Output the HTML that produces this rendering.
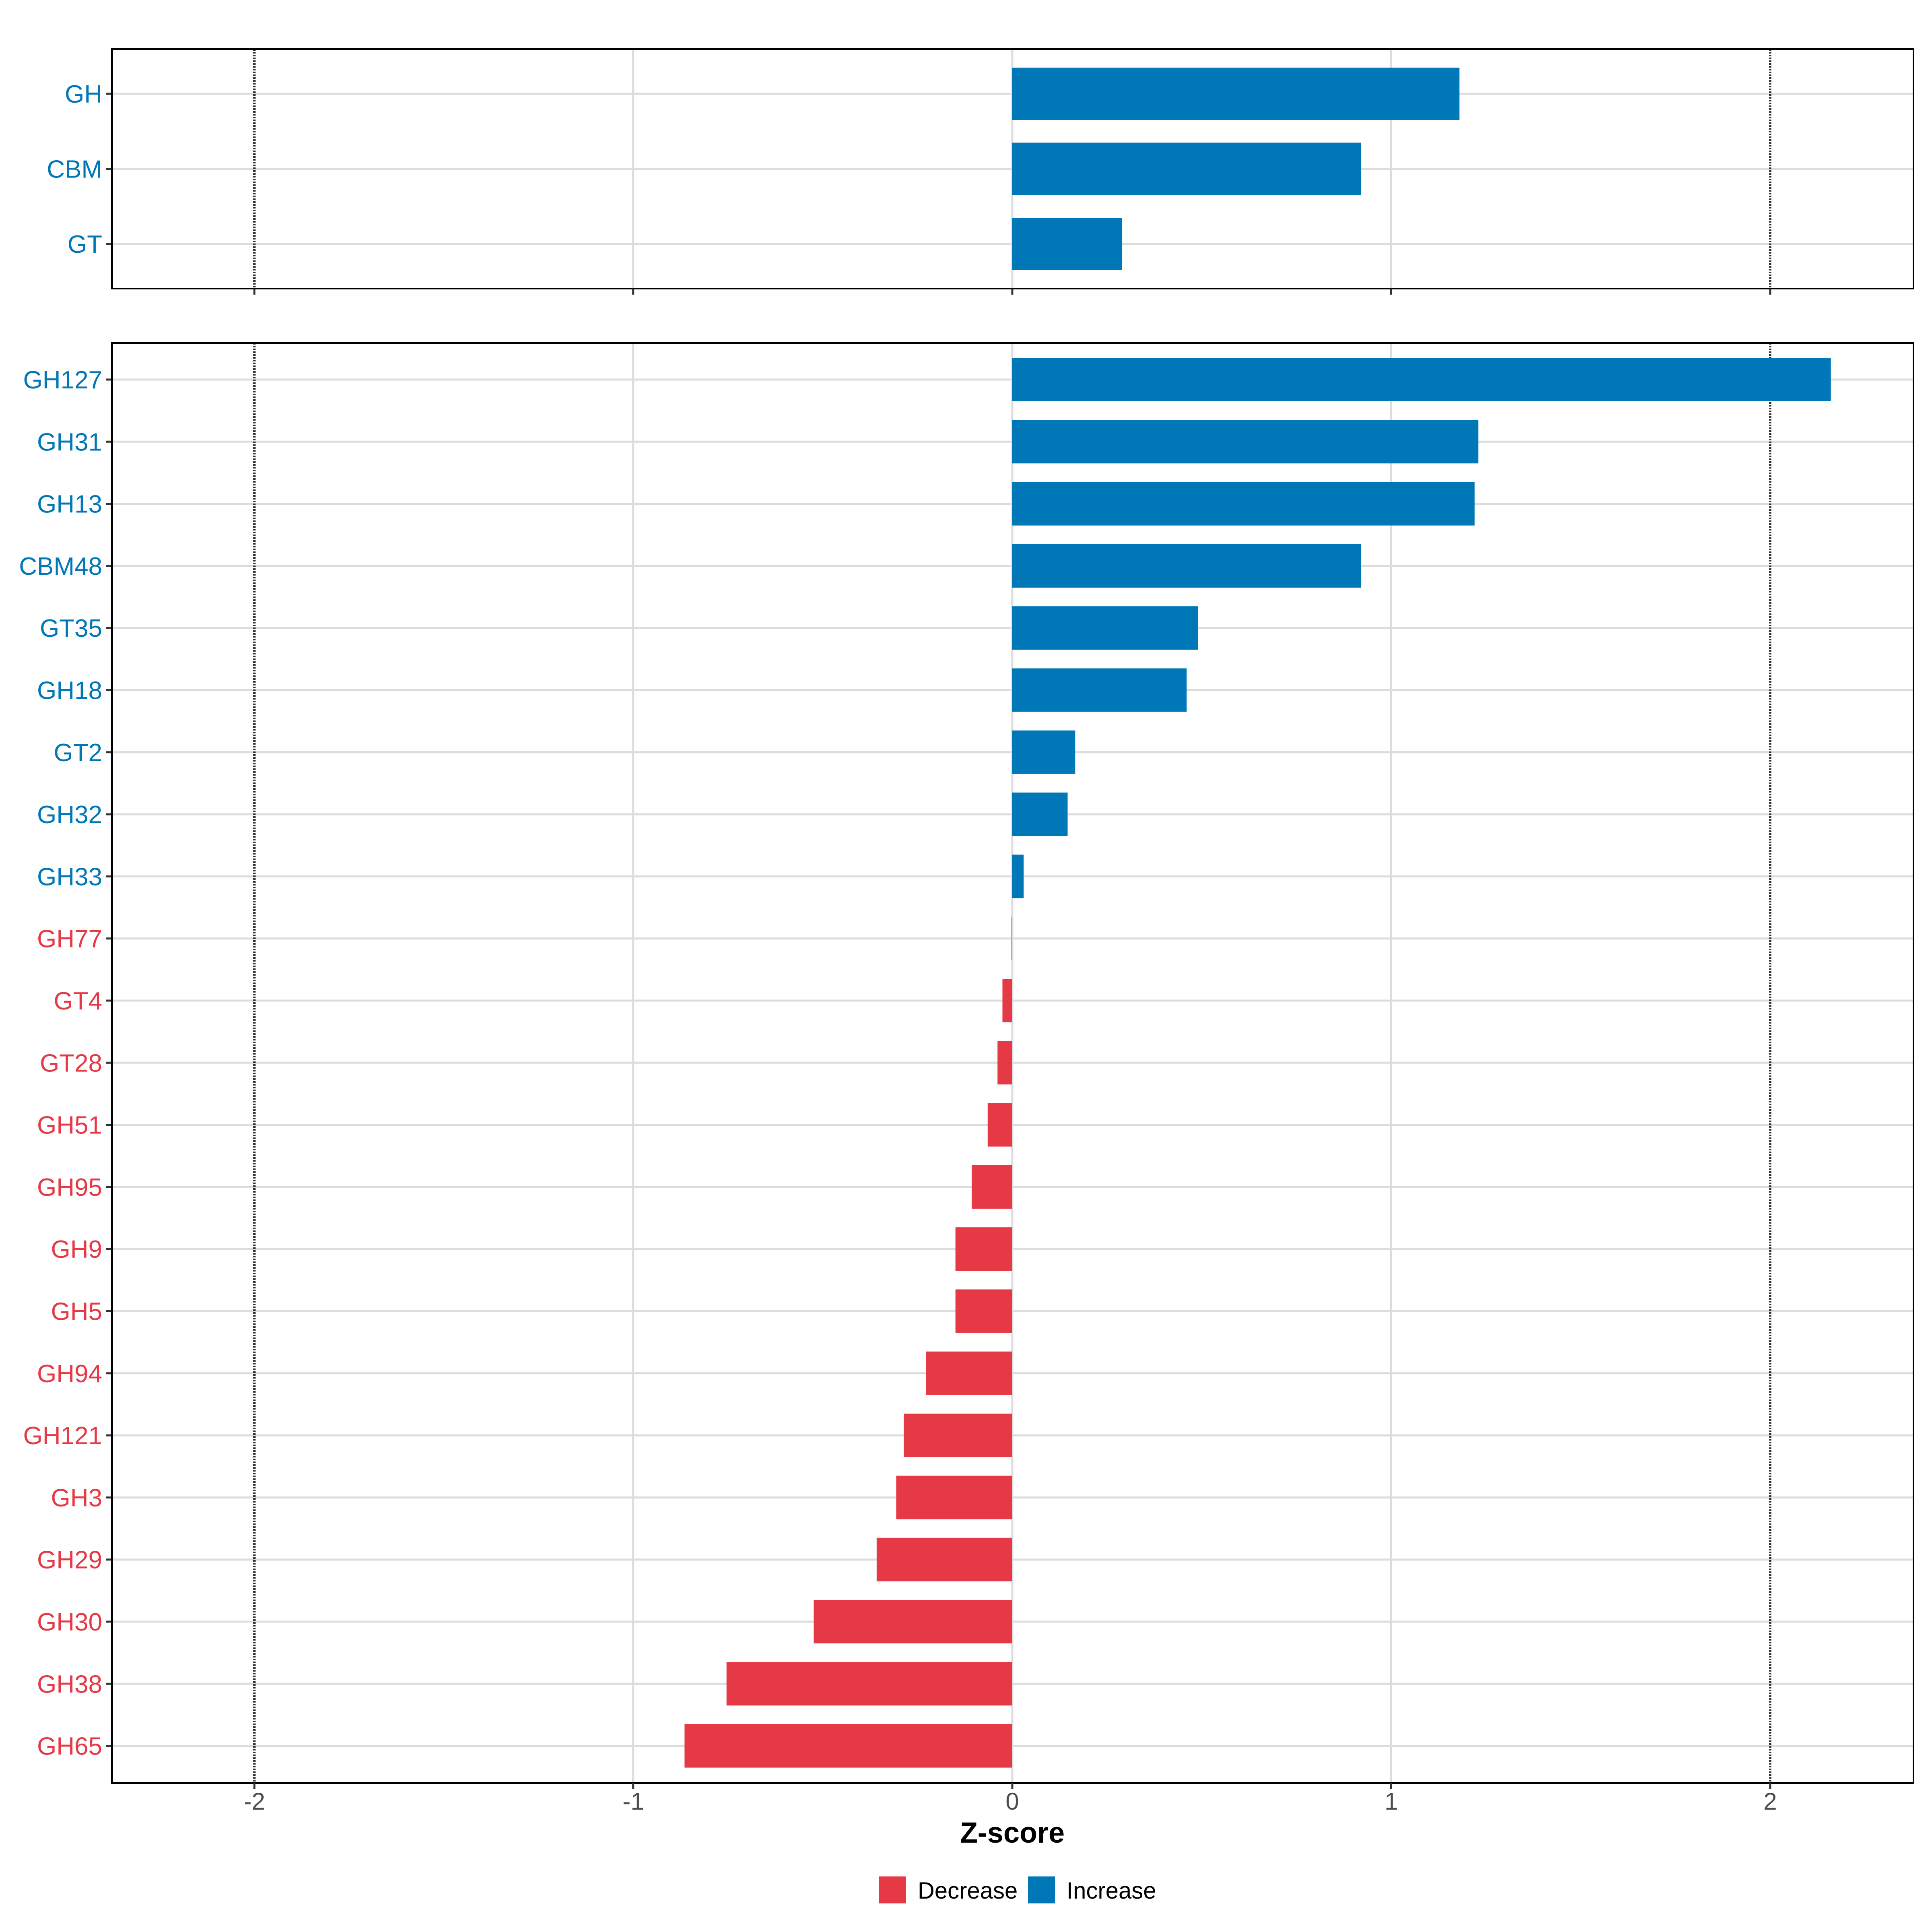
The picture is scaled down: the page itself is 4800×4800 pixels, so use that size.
<!DOCTYPE html>
<html><head><meta charset="utf-8"><style>
html,body{margin:0;padding:0;background:#fff;}
svg{display:block;font-family:"Liberation Sans",Arial,sans-serif;}
</style></head><body>
<svg id="chart" width="4800" height="4800" viewBox="0 0 4800 4800" xmlns="http://www.w3.org/2000/svg"></svg>
<script>
const topCats = ["GH","CBM","GT"];
const topVals = [1.18,0.92,0.29];
const botCats = ["GH127","GH31","GH13","CBM48","GT35","GH18","GT2","GH32","GH33","GH77","GT4","GT28","GH51","GH95","GH9","GH5","GH94","GH121","GH3","GH29","GH30","GH38","GH65"];
const botVals = [2.16,1.23,1.22,0.92,0.49,0.46,0.166,0.146,0.03,-0.002,-0.026,-0.039,-0.065,-0.107,-0.15,-0.15,-0.228,-0.286,-0.306,-0.358,-0.524,-0.754,-0.865];
const xTicks = [-2,-1,0,1,2];
const xTickLabels = ["-2","-1","0","1","2"];
const vLines = [-2,2];

const NS="http://www.w3.org/2000/svg";
const svg=document.getElementById('chart');
const BLUE="#0077b6", RED="#e63946";
const L=278,R=4754;
const x=v=>2515+v*941.5;
function el(t,a,p){const e=document.createElementNS(NS,t);for(const k in a)e.setAttribute(k,a[k]);(p||svg).appendChild(e);return e;}

function panel(name,top,bottom,cats,vals,firstY,step,barH,showX){
  const g=el('g',{});
  
  
  cats.forEach((c,i)=>{const y=firstY+i*step;
    const gl=el('line',{x1:L,x2:R,y1:y,y2:y,stroke:'#dcdcdc','stroke-width':5},g);
    
    
  });
  xTicks.forEach(t=>{ if(vLines.includes(t))return;
    const gl=el('line',{x1:x(t),x2:x(t),y1:top,y2:bottom,stroke:'#dcdcdc','stroke-width':5},g);
    
    
  });
  vLines.forEach(t=>{
    const vl=el('line',{x1:x(t),x2:x(t),y1:top,y2:bottom,stroke:'#333','stroke-width':6,'stroke-dasharray':'4 3'},g);
    
    
  });
  cats.forEach((c,i)=>{const y=firstY+i*step;const v=vals[i];
    const col=v>=0?BLUE:RED;
    const b=el('rect',{x:Math.min(x(0),x(v)),y:y-barH/2,width:Math.max(Math.abs(x(v)-x(0)),0.5),height:barH,fill:col},g);
    
    
    const tk=el('line',{x1:264,x2:L,y1:y,y2:y,stroke:'#333','stroke-width':5},g);
    
    
    const t=el('text',{x:254,y:y+22,'text-anchor':'end','font-size':62,fill:col},g);
    t.textContent=c;
    
    
  });
  const border=el('rect',{x:L,y:top,width:R-L,height:bottom-top,fill:'none',stroke:'#000','stroke-width':4},g);
  
  
  xTicks.forEach((t,i)=>{
    const tk=el('line',{x1:x(t),x2:x(t),y1:bottom,y2:bottom+15,stroke:'#333','stroke-width':5},g);
    
    
    if(showX){
      const tl=el('text',{x:x(t),y:bottom+66,'text-anchor':'middle','font-size':60,fill:'#4d4d4d'},g);
      tl.textContent=xTickLabels[i];
      
      
    }
  });
}
panel('top-panel',122,717,topCats,topVals,233,186.5,130,false);
panel('bottom-panel',852,4430,botCats,botVals,943,154.3,108,true);

const title=el('text',{x:2515,y:4578,'text-anchor':'middle','font-size':72,'font-weight':'bold',fill:'#000'});
title.textContent='Z-score';



const lg=el('g',{});


const k1=el('rect',{x:2184,y:4662,width:67,height:67,fill:RED},lg);


const t1=el('text',{x:2280,y:4717,'font-size':58,fill:'#000'},lg);
t1.textContent='Decrease';


const k2=el('rect',{x:2554,y:4662,width:67,height:67,fill:BLUE},lg);


const t2=el('text',{x:2650,y:4717,'font-size':58,fill:'#000'},lg);
t2.textContent='Increase';


</script>
</body></html>
